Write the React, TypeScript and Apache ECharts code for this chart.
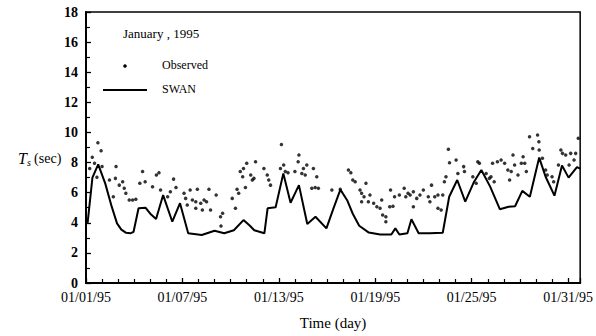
import React, { useEffect, useRef } from "react";
import * as echarts from "echarts";

// x values are days since 01/01/95 00:00
const xTickDays = [0, 6, 12, 18, 24, 30];
const yTicks = [0, 2, 4, 6, 8, 10, 12, 14, 16, 18];

const swanDays = [
  0.1, 0.4, 0.76, 1.2, 1.6, 1.93, 2.2, 2.5, 2.76, 2.96, 3.27, 3.7, 4.0, 4.36, 4.8, 5.37, 5.85,
  6.36, 7.2, 8.0, 8.6, 9.2, 9.8, 10.2, 10.47, 11.1, 11.3, 11.8, 12.28, 12.73, 13.25, 13.77,
  14.28, 14.96, 15.4, 15.83, 16.25, 16.6, 17.0, 17.6, 18.3, 19.0, 19.25, 19.5, 20.0,
  20.25, 20.7, 21.4, 22.2, 22.6, 23.1, 23.6, 24.15, 24.6, 25.15, 25.75, 26.3, 26.7, 27.15,
  27.62, 28.2, 28.6, 29.15, 29.62, 30.03, 30.55, 30.75,
];
const swanTs = [
  4.0, 7.0, 7.88, 6.6, 5.07, 3.96, 3.55, 3.33, 3.3, 3.4, 4.96, 5.0, 4.6, 4.25, 5.84, 4.07, 5.3,
  3.3, 3.19, 3.47, 3.3, 3.5, 4.18, 3.8, 3.5, 3.3, 4.96, 5.03, 7.28, 5.33, 6.5, 3.92,
  4.4, 3.63, 4.96, 6.2, 5.5, 4.6, 3.8, 3.35, 3.22, 3.22, 3.63, 3.22, 3.3,
  4.23, 3.3, 3.3, 3.34, 5.73, 6.84, 5.4, 6.73, 7.5, 6.4, 4.9, 5.07, 5.1, 6.12,
  5.73, 8.33, 7.06, 5.8, 7.8, 7.0, 7.7, 7.6,
];

const obsDays = [
  0.23, 0.39, 0.53, 0.68, 0.74, 0.94, 1.0, 1.46, 1.7, 1.83, 1.87, 2.07, 2.28, 2.38, 2.48,
  2.69, 2.9, 3.1, 3.35, 3.52, 3.68, 4.14, 4.38, 4.54, 4.64, 5.08, 5.25, 5.45, 5.6, 6.1,
  6.2, 6.3, 6.48, 6.62, 6.83, 6.83, 6.93, 7.14, 7.24, 7.35, 7.5, 7.65, 7.75, 8.1, 8.37,
  8.4, 8.5, 9.1, 9.3, 9.4, 9.5, 9.6, 9.75, 9.8, 9.92, 10.0, 10.25, 10.35, 10.45, 10.55,
  11.07, 11.28, 11.37, 11.48, 12.1, 12.16, 12.3, 12.4, 12.57, 13.0, 13.2, 13.25, 13.43,
  13.53, 13.64, 13.74, 14.05, 14.15, 14.26, 14.36, 14.46, 15.3, 15.82, 16.33, 16.48,
  16.6, 16.75, 17.05, 17.15, 17.15, 17.3, 17.42, 17.57, 17.67, 17.9, 18.1, 18.3, 18.4,
  18.46, 18.66, 18.66, 18.9, 18.95, 19.1, 19.2, 19.5, 19.8, 19.9, 20.04, 20.17, 20.37,
  20.37, 20.58, 20.78, 20.99, 21.3, 21.4, 21.5, 21.7, 21.9, 21.9, 22.1, 22.2, 22.3, 22.4,
  22.55, 22.62, 23.03, 23.14, 23.5, 23.55, 24.07, 24.28, 24.38, 24.48, 24.9, 25.1, 25.2,
  25.3, 25.4, 25.6, 25.83, 26.05, 26.25, 26.36, 26.46, 26.57, 26.67, 26.88, 27.09, 27.2,
  27.3, 27.4, 27.6, 27.8, 28.1, 28.18, 28.2, 28.4, 28.6, 28.7, 29.0, 29.1, 29.4, 29.55,
  29.65, 29.85, 30.06, 30.16, 30.37, 30.47, 30.63,
];
const obsTs = [
  7.6, 8.35, 7.95, 7.02, 9.32, 8.78, 7.74, 6.84, 5.73, 6.95, 7.74, 6.5, 6.73, 6.29, 5.96,
  5.51, 5.51, 5.56, 6.62, 7.4, 6.73, 6.4, 7.17, 7.33, 6.18, 5.73, 6.06, 6.9, 6.35, 5.96,
  5.62, 5.18, 6.18, 5.51, 5.4, 4.96, 6.22, 5.29, 4.85, 5.51, 5.4, 6.22, 4.85, 5.84, 4.4,
  3.78, 4.63, 5.62, 4.96, 6.22, 5.96, 7.4, 7.06, 7.6, 6.35, 7.95, 7.17, 6.84, 6.95, 8.06,
  7.6, 7.17, 6.84, 6.5, 7.6, 9.2, 7.84, 7.4, 7.33, 7.4, 8.06, 8.5, 7.28,
  7.6, 7.17, 7.84, 6.29, 7.6, 6.35, 7.06, 6.29, 6.18, 6.22, 7.5, 7.33,
  6.84, 6.73, 6.18, 5.96, 5.4, 5.73, 6.62, 5.4, 5.84, 5.29, 5.07, 4.96, 5.51,
  4.52, 4.4, 4.07, 5.07, 6.18, 5.1, 5.73, 5.84, 6.29, 5.73, 5.96, 5.84, 6.06,
  5.07, 5.62, 5.84, 6.18, 5.73, 5.4, 6.5, 5.73, 5.84, 4.96, 4.85, 5.84, 6.73, 7.06,
  8.88, 7.99, 8.17, 7.28, 7.73, 7.4, 7.06, 6.62, 8.06, 7.95, 7.28, 6.95, 7.06,
  7.95, 6.73, 8.06, 8.17, 7.95, 7.5, 6.84, 7.4, 8.5, 7.84, 7.17, 7.95, 8.39,
  7.95, 7.4, 9.71, 8.94, 9.83, 9.38, 8.83, 8.28, 7.5, 7.17, 7.06, 6.73, 7.84, 8.83,
  8.61, 8.5, 7.84, 8.61, 8.17, 8.61, 9.61,
];

const FONT = "Liberation Serif";

function dayLabel(v: number): string {
  const r = Math.round(v);
  if (Math.abs(v - r) > 1e-6 || !xTickDays.includes(r)) return "";
  const d = r + 1;
  return `01/${d < 10 ? "0" + d : d}/95`;
}

export default function App() {
  const ref = useRef<HTMLDivElement>(null);
  useEffect(() => {
    if (!ref.current) return;
    const chart = echarts.init(ref.current, undefined, { renderer: "svg" });
    const swan = swanDays.map((d, i) => [d, swanTs[i]]);
    const obs = obsDays.map((d, i) => [d, obsTs[i]]);
    chart.setOption({
      animation: false,
      backgroundColor: "#ffffff",
      textStyle: { fontFamily: FONT },
      grid: {
        left: 86,
        right: 11,
        top: 12,
        bottom: 53,
        show: true,
        borderColor: "#000",
        borderWidth: 1.5,
      },
      xAxis: {
        type: "value",
        min: 0,
        max: 30.75,
        interval: 6,
        name: "Time (day)",
        nameLocation: "middle",
        nameGap: 32,
        nameTextStyle: { fontFamily: FONT, fontSize: 15, color: "#000" },
        axisLine: { show: true, onZero: false, lineStyle: { color: "#000", width: 2 } },
        axisTick: { show: true, inside: true, length: 5, lineStyle: { color: "#000", width: 1.3 } },
        minorTick: { show: true, splitNumber: 6, length: 4, lineStyle: { color: "#000", width: 1.2 } },
        splitLine: { show: false },
        axisLabel: {
          formatter: dayLabel,
          fontFamily: FONT,
          fontSize: 14,
          color: "#000",
          margin: 7,
          showMaxLabel: false,
        },
      },
      yAxis: {
        type: "value",
        min: 0,
        max: 18,
        interval: 2,
        axisLine: { show: true, lineStyle: { color: "#000", width: 2 } },
        axisTick: { show: true, inside: true, length: 5, lineStyle: { color: "#000", width: 1.3 } },
        minorTick: { show: true, splitNumber: 2, length: 4, lineStyle: { color: "#000", width: 1.2 } },
        splitLine: { show: false },
        axisLabel: {
          formatter: (v: number) => (yTicks.includes(v) ? String(v) : ""),
          fontFamily: FONT,
          fontSize: 14,
          fontWeight: "bold",
          color: "#000",
          margin: 8,
        },
      },
      series: [
        {
          name: "Observed",
          type: "scatter",
          data: obs,
          symbol: "circle",
          symbolSize: 3.5,
          itemStyle: { color: "#000" },
        },
        {
          name: "SWAN",
          type: "line",
          data: swan,
          showSymbol: false,
          symbol: "none",
          lineStyle: { color: "#000", width: 2 },
        },
      ],
      graphic: [
        {
          type: "text",
          left: 18,
          top: 150,
          style: {
            text: "{t|T}{s|s} {n|(sec)}",
            rich: {
              t: { fontFamily: FONT, fontSize: 16, fontStyle: "italic", fill: "#000" },
              s: { fontFamily: FONT, fontSize: 10, fontStyle: "italic", fill: "#000", padding: [8, 0, 0, 0] },
              n: { fontFamily: FONT, fontSize: 14, fill: "#000" },
            },
          },
        },
        {
          type: "text",
          left: 123,
          top: 27,
          style: { text: "January , 1995", fontFamily: FONT, fontSize: 13, fill: "#000" },
        },
        {
          type: "circle",
          shape: { cx: 125, cy: 66, r: 1.8 },
          style: { fill: "#000" },
        },
        {
          type: "text",
          left: 162,
          top: 59,
          style: { text: "Observed", fontFamily: FONT, fontSize: 12, fill: "#000" },
        },
        {
          type: "line",
          shape: { x1: 103, y1: 90, x2: 147, y2: 90 },
          style: { stroke: "#000", lineWidth: 2 },
        },
        {
          type: "text",
          left: 162,
          top: 83,
          style: { text: "SWAN", fontFamily: FONT, fontSize: 12, fill: "#000" },
        },
      ],
    });
    return () => chart.dispose();
  }, []);
  return (
    <div
      ref={ref}
      style={{ position: "fixed", left: 0, top: 0, width: 596, height: 336 }}
    />
  );
}
